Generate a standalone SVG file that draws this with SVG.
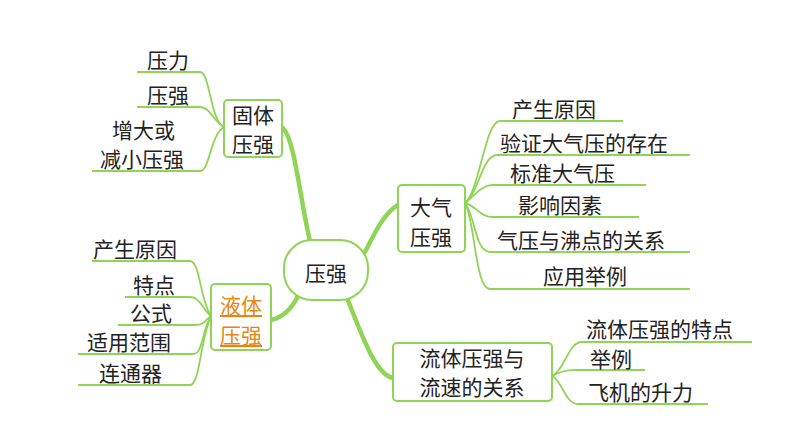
<svg xmlns="http://www.w3.org/2000/svg" width="794" height="447" viewBox="0 0 794 447">
<style>
.t{font-family:"Noto Sans CJK SC",sans-serif;font-size:21px;fill:#222}
.b{fill:#fff;stroke:#8fd456;stroke-width:2}
.l{fill:none;stroke:#8fd456;stroke-width:1.8}
.k{fill:none;stroke:#8fd456;stroke-width:4.5;stroke-linecap:round}
.o{font-family:"Noto Sans CJK SC",sans-serif;font-size:21px;fill:#e8850e;text-decoration:underline}
</style>
<rect width="794" height="447" fill="#fff"/>
<g id="connectors">
<path class="k" d="M310 241 C300 200 295 140 283 128"/>
<path class="k" d="M298 296 C290 312 280 318 271 320"/>
<path class="k" d="M365 252 C375 232 385 212 398 205"/>
<path class="k" d="M347 298 C360 330 375 375 393 378"/>
<path class="l" d="M224 127 C210 120 210 72 200 72 L137 72"/>
<path class="l" d="M224 127 C214 122 210 107 200 107 L137 107"/>
<path class="l" d="M224 127 C210 135 210 171 200 171 L92 171"/>
<path class="l" d="M211 316 C200 300 200 261 190 261 L92 261"/>
<path class="l" d="M211 316 C203 310 200 297 190 297 L125 297"/>
<path class="l" d="M211 316 C205 320 205 325 195 325 L118 325"/>
<path class="l" d="M211 316 C202 330 203 354 193 354 L78 354"/>
<path class="l" d="M211 316 C200 340 200 385 190 385 L78 385"/>
<path class="l" d="M465 203 C480 190 485 121 500 121 L623 121"/>
<path class="l" d="M465 203 C478 195 482 155 497 155 L690 155"/>
<path class="l" d="M465 203 C475 195 482 185 492 185 L646 185"/>
<path class="l" d="M465 203 C475 205 480 217 492 217 L639 217"/>
<path class="l" d="M465 203 C475 215 475 252 490 252 L690 252"/>
<path class="l" d="M465 203 C475 220 475 289 490 289 L690 289"/>
<path class="l" d="M552 376 C565 370 568 342 582 342 L752 342"/>
<path class="l" d="M552 376 C560 372 565 370 575 370 L645 370"/>
<path class="l" d="M552 376 C562 380 565 404 578 404 L708 404"/>
</g>
<g id="center"><rect class="b" x="284" y="240" width="84" height="60" rx="28"/><text class="t" x="326" y="281" font-size="26" text-anchor="middle">压强</text></g>
<g id="guti"><rect class="b" x="224" y="100" width="58" height="57" rx="4"/><text class="t" x="253" y="123" text-anchor="middle">固体</text><text class="t" x="253" y="152" text-anchor="middle">压强</text></g>
<g id="yeti"><rect class="b" x="211" y="284" width="60" height="66" rx="4"/><text class="o" x="241" y="313" text-anchor="middle">液体</text><text class="o" x="241" y="343" text-anchor="middle">压强</text></g>
<g id="daqi"><rect class="b" x="398" y="185" width="67" height="67" rx="4"/><text class="t" x="431" y="215" text-anchor="middle">大气</text><text class="t" x="431" y="245" text-anchor="middle">压强</text></g>
<g id="liuti"><rect class="b" x="393" y="343" width="159" height="58" rx="4"/><text class="t" x="472" y="366" text-anchor="middle">流体压强与</text><text class="t" x="472" y="395" text-anchor="middle">流速的关系</text></g>
<g id="leaves">
<text class="t" x="147" y="68">压力</text>
<text class="t" x="147" y="103">压强</text>
<text class="t" x="112" y="138">增大或</text>
<text class="t" x="100" y="167">减小压强</text>
<text class="t" x="93" y="257">产生原因</text>
<text class="t" x="133" y="293">特点</text>
<text class="t" x="130" y="321">公式</text>
<text class="t" x="87" y="350">适用范围</text>
<text class="t" x="99" y="381">连通器</text>
<text class="t" x="512" y="117">产生原因</text>
<text class="t" x="500" y="151">验证大气压的存在</text>
<text class="t" x="510" y="181">标准大气压</text>
<text class="t" x="518" y="213">影响因素</text>
<text class="t" x="497" y="248">气压与沸点的关系</text>
<text class="t" x="543" y="284">应用举例</text>
<text class="t" x="586" y="337">流体压强的特点</text>
<text class="t" x="590" y="367">举例</text>
<text class="t" x="588" y="400">飞机的升力</text>
</g>
</svg>
